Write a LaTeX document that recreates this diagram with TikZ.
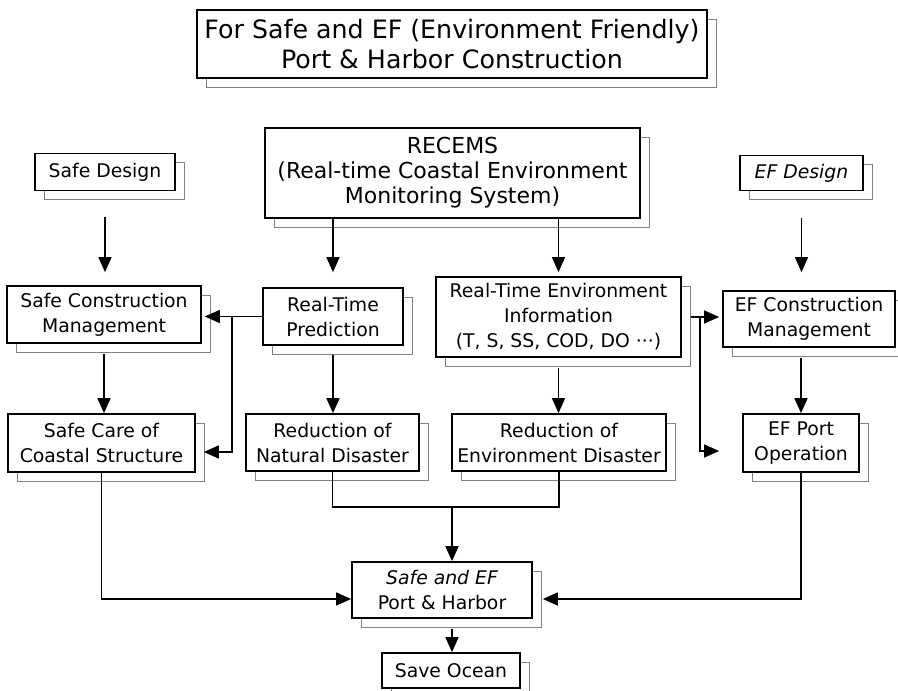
\documentclass[tikz,border=0pt]{standalone}
\usepackage{fontspec}
\setmainfont{DejaVu Sans}
\usetikzlibrary{arrows.meta,shadows}
\begin{document}
\begin{tikzpicture}[x=1pt,y=-1pt,
    box/.style={draw,line width=1.7pt,fill=white,align=center,inner sep=0pt,
        copy shadow={shadow xshift=9pt,shadow yshift=-9pt,draw=black!50,fill=white,line width=1pt},
        font=\fontsize{18.8}{25}\selectfont},
    arr/.style={line width=1.5pt,-{Triangle[length=15pt,width=13pt]}},
    link/.style={line width=1.5pt}]
    \useasboundingbox (0,0) rectangle (898,691);
    \node[box,minimum width=510pt,minimum height=68pt,font=\fontsize{25.3}{30}\selectfont] (title) at (452,44) {For Safe and EF (Environment Friendly)\\Port \& Harbor Construction};
    \node[box,minimum width=375pt,minimum height=90pt,font=\fontsize{22}{25}\selectfont] (recems) at (452.5,173) {RECEMS\\(Real-time Coastal Environment\\Monitoring System)};
    \node[box,minimum width=140pt,minimum height=37pt] (safedes) at (105,172) {Safe Design};
    \node[box,minimum width=123pt,minimum height=35pt] (efdes) at (801.5,173) {\itshape EF Design};
    \node[box,minimum width=194pt,minimum height=57pt] (safecon) at (104,314.5) {Safe Construction\\Management};
    \node[box,minimum width=140pt,minimum height=57pt] (rtp) at (333,316.5) {Real-Time\\Prediction};
    \node[box,minimum width=245pt,minimum height=80pt] (rtei) at (558.5,317) {Real-Time Environment\\Information\\(T, S, SS, COD, DO ···)};
    \node[box,minimum width=172pt,minimum height=56pt] (efcon) at (809,319) {EF Construction\\Management};
    \node[box,minimum width=187pt,minimum height=58pt] (safecare) at (101.5,443) {Safe Care of\\Coastal Structure};
    \node[box,minimum width=173pt,minimum height=57pt] (rednat) at (332.5,442.5) {Reduction of\\Natural Disaster};
    \node[box,minimum width=214pt,minimum height=57pt] (redenv) at (559,442.5) {Reduction of\\Environment Disaster};
    \node[box,minimum width=116pt,minimum height=58pt] (efport) at (801,443) {EF Port\\Operation};
    \node[box,minimum width=180pt,minimum height=56pt] (port) at (442,590) {\itshape Safe and EF\\Port \& Harbor};
    \node[box,minimum width=138pt,minimum height=35pt] (ocean) at (451,670.5) {Save Ocean};
    \coordinate (lbr) at (232,316.5);
    \coordinate (rbr) at (700,317);
    \coordinate (mrg) at (452,507);
    \draw[arr,shorten <=26pt,shorten >=13pt] (safedes.south) -- (safedes.south |- safecon.north);
    \draw[arr,shorten >=15pt] (recems.south -| rtp.north) -- (rtp.north);
    \draw[arr,shorten >=4pt] (recems.south -| rtei.north) -- (rtei.north);
    \draw[arr,shorten <=27pt,shorten >=18pt] (efdes.south) -- (efdes.south |- efcon.north);
    \draw[arr,shorten <=10pt] (safecon.south) -- (safecon.south |- safecare.north);
    \draw[arr,shorten <=9pt] (rtp.south) -- (rtp.south |- rednat.north);
    \draw[arr,shorten <=10pt] (rtei.south) -- (rtei.south |- redenv.north);
    \draw[arr,shorten <=10pt] (efport.north |- efcon.south) -- (efport.north);
    \draw[arr,shorten >=3pt] (rtp.west) -- (rtp.west -| safecon.east);
    \draw[arr] (lbr) |- ([xshift=8pt,yshift=-9pt]safecare.east);
    \draw[arr,shorten <=9pt,shorten >=3pt] (rtei.east) -- (rtei.east -| efcon.west);
    \draw[arr] (rbr) |- ([xshift=-23pt,yshift=-8pt]efport.west);
    \draw[link] (rednat.south) -- (rednat.south |- mrg) -| (redenv.south);
    \draw[arr] (mrg) -- (mrg |- port.north);
    \draw[arr] (safecare.south) |- ([yshift=-9pt]port.west);
    \draw[arr] (efport.south) |- ([xshift=10pt,yshift=-9pt]port.east);
    \draw[arr,shorten <=10pt] (mrg |- port.south) -- (mrg |- ocean.north);
\end{tikzpicture}
\end{document}
